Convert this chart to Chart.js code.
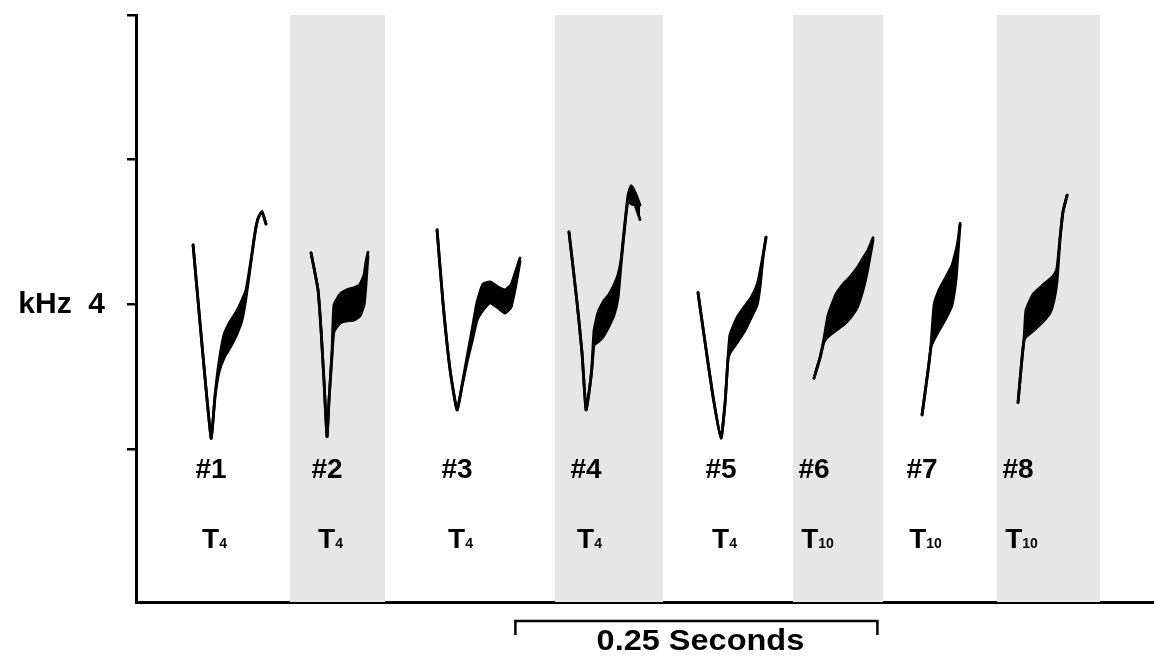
<!DOCTYPE html>
<html>
<head>
<meta charset="utf-8">
<script src="https://cdn.jsdelivr.net/npm/chart.js@4.4.1/dist/chart.umd.min.js"></script>
<style>
  html, body { margin: 0; padding: 0; background: #fff; }
  #wrap { width: 1154px; height: 657px; }
</style>
</head>
<body>
<div id="wrap"><canvas id="songChart"></canvas></div>
<script>
// time in ms, frequency in kHz: [t, lowEdge, highEdge]
const note1 = [
    [39.4, 4.82, 4.82], [51.8, 2.15, 2.15], [54.6, 2.72, 2.75], [57.3, 3.06, 3.20],
    [60.8, 3.26, 3.58], [64.9, 3.40, 3.76], [69.1, 3.56, 3.89], [73.2, 3.78, 4.06],
    [76.0, 4.09, 4.20], [79.4, 4.59, 4.61], [82.2, 4.99, 4.99], [84.3, 5.19, 5.19],
    [87.0, 5.28, 5.28], [89.8, 5.11, 5.11]
];
const note2 = [
    [120.9, 4.71, 4.71], [125.7, 4.20, 4.20], [127.8, 3.64, 3.64], [129.8, 2.95, 2.95],
    [131.9, 2.17, 2.17], [133.3, 2.68, 2.68], [135.4, 3.30, 3.37], [136.7, 3.62, 3.99],
    [140.9, 3.74, 4.14], [145.7, 3.77, 4.20], [150.6, 3.78, 4.23], [154.7, 3.84, 4.28],
    [157.5, 3.99, 4.41], [158.8, 4.27, 4.59], [160.2, 4.67, 4.72]
];
const note3 = [
    [207.9, 5.03, 5.03], [212.0, 4.02, 4.02], [216.9, 3.09, 3.09], [221.7, 2.54, 2.54],
    [225.1, 2.86, 2.88], [228.6, 3.20, 3.27], [232.0, 3.48, 3.64], [235.5, 3.78, 4.03],
    [239.6, 3.92, 4.28], [244.5, 4.02, 4.31], [250.0, 3.95, 4.24], [254.8, 3.88, 4.20],
    [259.0, 3.96, 4.27], [262.4, 4.27, 4.47], [265.2, 4.59, 4.64]
];
const note4 = [
    [299.0, 5.00, 5.00], [304.6, 4.02, 4.02], [308.0, 3.33, 3.33], [310.8, 2.54, 2.54],
    [313.5, 2.88, 2.88], [314.9, 3.12, 3.16], [316.3, 3.44, 3.64], [319.1, 3.48, 3.89],
    [322.5, 3.55, 4.03], [326.7, 3.70, 4.14], [330.1, 3.85, 4.27], [332.9, 4.09, 4.41],
    [334.9, 4.54, 4.61], [337.7, 5.11, 5.14], [339.8, 5.44, 5.51], [341.9, 5.39, 5.64],
    [344.6, 5.37, 5.55], [348.1, 5.17, 5.37]
];
const note5 = [
    [388.1, 4.16, 4.16], [393.0, 3.47, 3.47], [398.5, 2.72, 2.72], [404.0, 2.15, 2.15],
    [406.8, 2.64, 2.64], [408.8, 3.23, 3.26], [410.2, 3.33, 3.58], [415.1, 3.47, 3.82],
    [420.6, 3.64, 3.98], [424.7, 3.81, 4.09], [428.9, 3.99, 4.27], [430.9, 4.23, 4.45],
    [433.0, 4.64, 4.68], [435.1, 4.93, 4.93]
];
const note6 = [
    [468.2, 2.98, 2.98], [472.4, 3.26, 3.27], [475.1, 3.48, 3.53], [477.9, 3.55, 3.85],
    [483.4, 3.64, 4.14], [488.3, 3.71, 4.28], [493.1, 3.81, 4.38], [497.9, 3.95, 4.50],
    [502.1, 4.20, 4.64], [505.5, 4.50, 4.75], [509.0, 4.89, 4.92]
];
const note7 = [
    [542.8, 2.47, 2.47], [547.0, 3.09, 3.09], [549.0, 3.41, 3.44], [551.1, 3.51, 3.99],
    [554.6, 3.64, 4.20], [559.4, 3.81, 4.38], [563.5, 3.99, 4.54], [566.3, 4.34, 4.75],
    [567.7, 4.72, 4.89], [569.1, 5.10, 5.12]
];
const note8 = [
    [609.1, 2.64, 2.64], [611.9, 3.26, 3.27], [613.3, 3.51, 3.53], [614.6, 3.55, 3.92],
    [619.5, 3.63, 4.14], [626.4, 3.76, 4.27], [631.2, 3.88, 4.35], [634.0, 4.06, 4.41],
    [636.0, 4.31, 4.50], [638.1, 4.89, 4.92], [640.2, 5.28, 5.29], [643.0, 5.51, 5.51]
];

const notes = [note1, note2, note3, note4, note5, note6, note7, note8];
const noteNames = ['#1', '#2', '#3', '#4', '#5', '#6', '#7', '#8'];
const tutorSubs = ['4', '4', '4', '4', '4', '10', '10', '10'];

// alternating grey bands behind every other note (ms)
const bandStarts = [106.4, 289.4, 453.7, 594.6];
const bandEnds = [172.0, 364.0, 515.9, 665.7];

const yTicks = [2, 4, 6, 8];
const yMin = -0.116;
const yMax = 8;
const xMax = 703;

const scaleBarStart = 262;
const scaleBarLength = 250;
const scaleBarText = '0.25 Seconds';

const FONT = '"Liberation Sans", Arial, Helvetica, sans-serif';

const datasets = [];
notes.forEach((pts, i) => {
    const common = {
        borderColor: '#000',
        borderWidth: 2.8,
        pointRadius: 0,
        tension: 0.15,
        borderJoinStyle: 'round',
        borderCapStyle: 'round',
        order: 1
    };
    datasets.push(Object.assign({
        label: noteNames[i] + ' low',
        data: pts.map(p => ({ x: p[0], y: p[1] })),
        fill: false
    }, common));
    datasets.push(Object.assign({
        label: noteNames[i] + ' high',
        data: pts.map(p => ({ x: p[0], y: p[2] })),
        fill: '-1',
        backgroundColor: '#000'
    }, common));
});
bandStarts.forEach((s, i) => {
    datasets.push({
        label: 'band ' + (i + 1),
        data: [{ x: s, y: yMax }, { x: bandEnds[i], y: yMax }],
        fill: 'start',
        backgroundColor: '#e6e6e6',
        borderWidth: 0,
        pointRadius: 0,
        order: 5
    });
});

// "#n" and T-type labels under each note, plus the time scale bar
const noteLabels = {
    id: 'noteLabels',
    afterDatasetsDraw(chart) {
        const ctx = chart.ctx;
        const xs = chart.scales.x;
        const bottom = chart.chartArea.bottom;
        ctx.save();
        ctx.fillStyle = '#000';
        ctx.textBaseline = 'alphabetic';
        notes.forEach((pts, i) => {
            let low = pts[0];
            pts.forEach(p => { if (p[1] < low[1]) low = p; });
            const cx = xs.getPixelForValue(low[0]);

            ctx.font = 'bold 28px ' + FONT;
            ctx.textAlign = 'center';
            ctx.fillText(noteNames[i], cx, bottom - 124);

            ctx.textAlign = 'left';
            ctx.font = 'bold 28px ' + FONT;
            const tw = ctx.measureText('T').width;
            ctx.font = 'bold 14px ' + FONT;
            const sw = ctx.measureText(tutorSubs[i]).width;
            const left = cx + 4 - (tw + sw + 1) / 2;
            ctx.font = 'bold 28px ' + FONT;
            ctx.fillText('T', left, bottom - 54);
            ctx.font = 'bold 14px ' + FONT;
            ctx.fillText(tutorSubs[i], left + tw, bottom - 54);
        });

        const x0 = xs.getPixelForValue(scaleBarStart);
        const x1 = xs.getPixelForValue(scaleBarStart + scaleBarLength);
        const yb = bottom + 19;
        ctx.strokeStyle = '#000';
        ctx.lineWidth = 2.5;
        ctx.beginPath();
        ctx.moveTo(x0, yb + 14);
        ctx.lineTo(x0, yb);
        ctx.lineTo(x1, yb);
        ctx.lineTo(x1, yb + 14);
        ctx.stroke();

        ctx.translate((x0 + x1) / 2 + 4, bottom + 48);
        ctx.scale(1.12, 1);
        ctx.font = 'bold 29px ' + FONT;
        ctx.textAlign = 'center';
        ctx.fillText(scaleBarText, 0, 0);
        ctx.restore();
    }
};

new Chart(document.getElementById('songChart'), {
    type: 'line',
    data: { datasets: datasets },
    options: {
        responsive: true,
        maintainAspectRatio: false,
        animation: false,
        events: [],
        layout: { padding: { top: 15, right: 0, bottom: 0, left: 0 } },
        plugins: {
            legend: { display: false },
            tooltip: { enabled: false }
        },
        scales: {
            x: {
                type: 'linear',
                min: 0,
                max: xMax,
                grid: { display: false },
                ticks: { display: false },
                border: { display: true, color: '#000', width: 3 },
                afterFit(scale) {
                    scale.height = 55;
                    scale.paddingLeft = 0;
                    scale.paddingRight = 0;
                }
            },
            y: {
                type: 'linear',
                min: yMin,
                max: yMax,
                afterBuildTicks(scale) {
                    scale.ticks = yTicks.map(v => ({ value: v }));
                },
                grid: {
                    display: true,
                    drawOnChartArea: false,
                    drawTicks: true,
                    tickLength: 9,
                    color: '#000',
                    lineWidth: 2.5
                },
                border: { display: true, color: '#000', width: 3 },
                ticks: {
                    padding: 22,
                    color: '#000',
                    font: { family: FONT, size: 30, weight: 'bold' },
                    callback: v => (v === 4 ? 'kHz  4' : '')
                },
                afterFit(scale) {
                    scale.width = 136;
                    scale.paddingTop = 0;
                    scale.paddingBottom = 0;
                }
            }
        }
    },
    plugins: [noteLabels]
});
</script>
</body>
</html>
